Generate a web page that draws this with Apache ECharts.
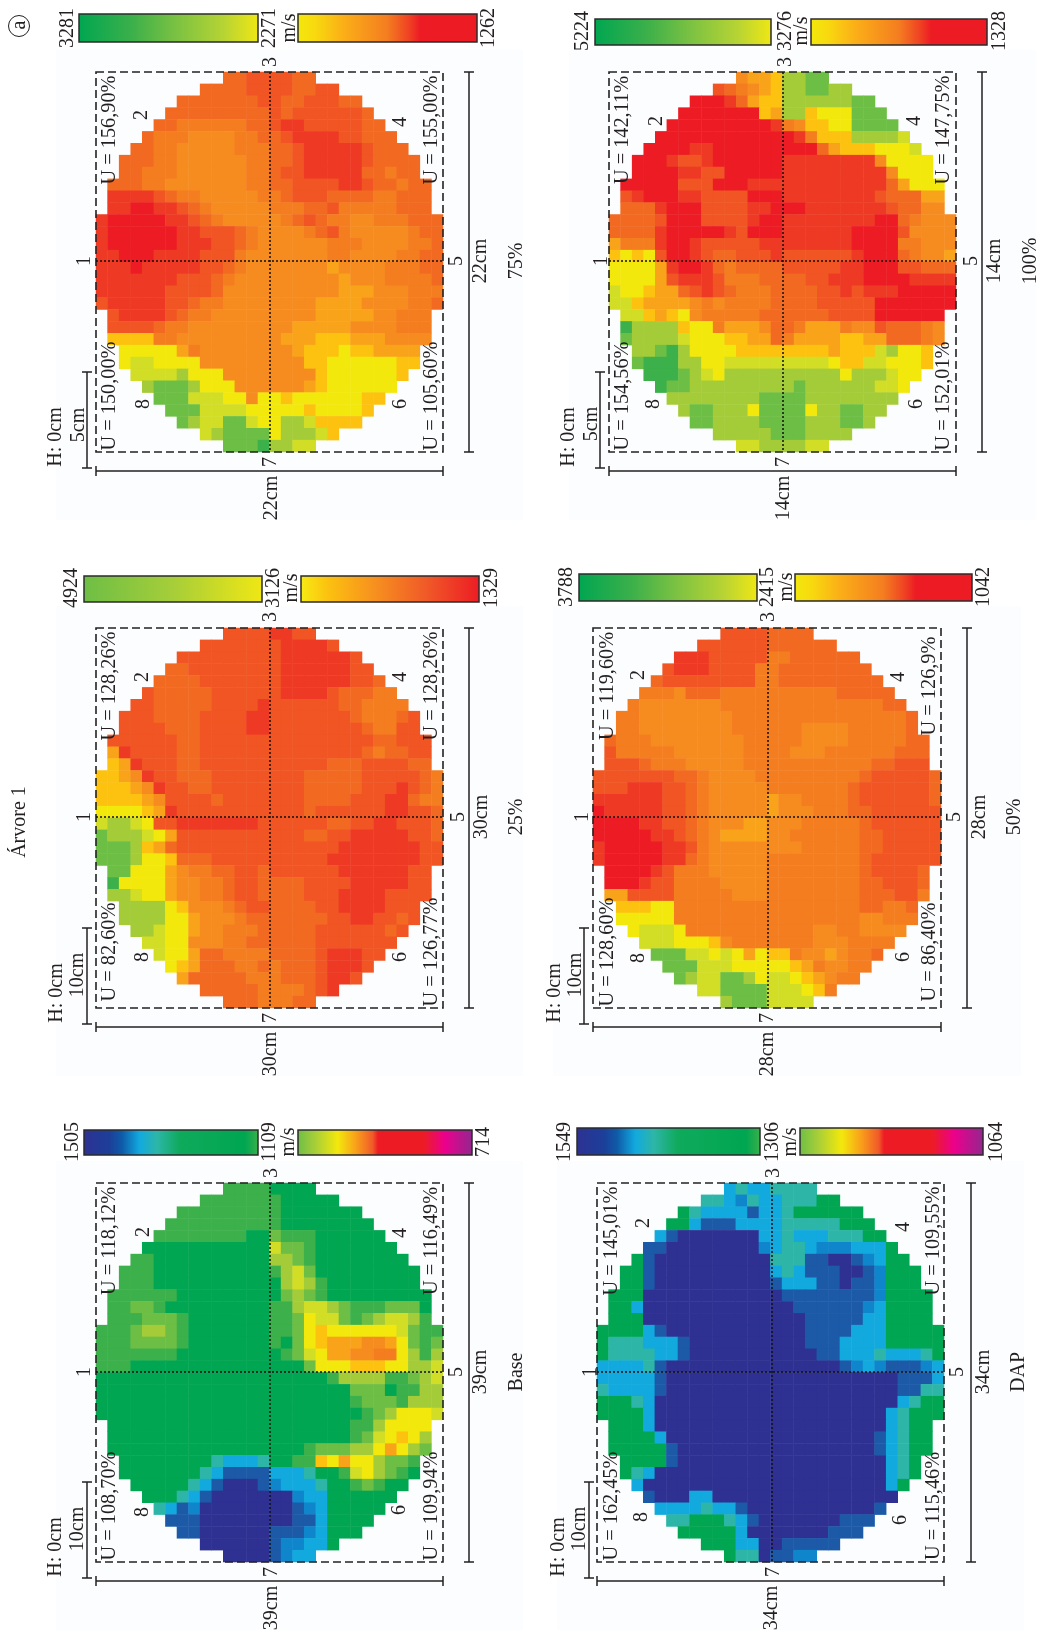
<!DOCTYPE html>
<html>
<head>
<meta charset="utf-8">
<style>
  html, body { margin: 0; padding: 0; background: #fff; }
  #chart { width: 1048px; height: 1642px; }
</style>
<script src="https://cdn.jsdelivr.net/npm/echarts@6/dist/echarts.min.js"></script>
</head>
<body>
<div id="chart"></div>
<script>
// colour level of each cell, one string per row of the disc (rows are centred on the grid)
const levels = '0123456789abcdefghi'
const levelColors = ['#2e3192', '#1c5aa8', '#0f86cc', '#12a9de', '#2db6a8', '#00a651', '#3cb04a', '#6dbe45', '#a4cc39', '#d2dd26', '#f3e80c', '#fcc20f', '#f9a31a', '#f68c1f', '#f47d20', '#f26a21', '#f05523', '#ee3a24', '#ed1c24']

const rows75 = [
  'ffggggff',
  'ffffggggffgg',
  'fffffffggffgggff',
  'fffffffffgfggggggf',
  'ffeeeeeeffghhgggggff',
  'feeeddddeeffghhhhggfff',
  'ffeedddddeeeffghhhhhgfff',
  'fffeeddddddeeffghhhhhgffff',
  'ffeeeddddddeefgghhhhhffeff',
  'fffeedddddddeeffgggghhgffeff',
  'hhhhgfeedddddeefgggffffeefff',
  'hhiihhgfedddddeeeffgeeeeefff',
  'hiiiiihhgfedddddefgfeeddeeefff',
  'hiiiiiihhgggfeddddefgedddddeff',
  'hiiiiiihhhggfeddddddeeeddddeef',
  'hhiiihhhhgggedddddddeeddddeeff',
  'hhhihhhhhggfedddddddcddddeeeff',
  'hhhhhhhgggfedddddddddcdddeeeef',
  'hhhhhhggggfddddddddddcccdddeee',
  'ghhhhhggfeeddddddddccccddddeef',
  'ghhhhgfeedddddddddcccccddeee',
  'ggggfeedddddddddcccccddddeee',
  'bbbbeedddddddddcccbbbcccdddd',
  'aaaaaceddddddddcbbbabbcccc',
  'a99aaaadddddddddbbaaaaaabb',
  '99998aaaddddddddbaaaaaab',
  '87778aaaddddddcbaaaaaa',
  '777999aadaabaaaaaabb',
  '7779999aaaaabaaaab',
  '7899779aa889bbbb',
  '987777a8889b',
  '77768899'
]
const rows100 = [
  'dccb8877',
  'gfedcb887788',
  'iiihfcbb88888877',
  'iiiiiiibc88baaa777',
  'iiiiiiiiihedbbaa7777',
  'iiiiiiiiiiiihebbb88889',
  'iiiihhiiiiiiiiifcbbbaaa9',
  'iiihgghiiiiiihhhhhhhhdaaaa',
  'iiiihhggiiiiihhhhhhhhhdaaa',
  'iiiiigggiiihhhhhhhhhhhhfcaaa',
  'ghiiihhggggiiihhhhhhhhgfffcc',
  'fffhiiigggghhiiihhhhhhhgffdd',
  'ffffgiiiggggh' + 'iihhhhhhhhiifeddd',
  'ffffhiiiiihgiiihhhhhhiiiigdddd',
  'ceeehiihggggghhhhhhhhiiiieeddd',
  'babagiihgffggghgggggghiiifeddc',
  'aaaachiihfeffffggggghhiiiggfff',
  'aaaacghhhgeeeffffgghhhiiiihhhh',
  '9aabccfghgfeeeffffgghghhhiiiii',
  '99bccccdedeeeeffffgggggiiiiiii',
  '99bcbadeeeeeffffffggggiiiiii',
  '68888baaecccdffeccceddgfffed',
  '788889aaabbccfeccccbbccfffed',
  '88768aaaabbbbbbbbcbbb98aab',
  '766688aa999999999abb99aaab',
  '666789a8888888888a8889aa',
  '677888888888788888899a',
  '88888888777788888888',
  '877888a7777a887788',
  '7788887777888778',
  '888887778888',
  '99888899'
]
const rows25 = [
  'gggghhgg',
  'ggggggghhhhg',
  'ggggggggghhhhhhg',
  'ffgggggggghhhhhhgg',
  'ffffggggggghhhhhhggf',
  'gfffffgggggghhhhgfffee',
  'ggfffffgggghggggggffeeee',
  'gggffffgggghhgggggggfeeefg',
  'ggggfffgggghhggggggggfeegg',
  'ggggggffgggggggggggggggffggg',
  'chggggffggggggggggggggfeffgg',
  'bchgggffgggggggggggfffggggff',
  'bbcdhggfffggggggggfffffgggggfe',
  'bbbcdhggffggggggggfffffggghgfe',
  'bbbbcdggggfgggggggffffggghhfee',
  'aaaabchgggggggggggfgggggghhggf',
  '9889agghhhhhhhggggggffgghhgggf',
  '78889acgggggggggggffgghhhhhggf',
  '7778bcfgggggggggggggghhhhhhhgg',
  '7778aabfffgggggggggghhhhhhhhgg',
  '77aaacdeeffggfgggggghhhhhhgg',
  '6aaaacddeefggffffgggghhhhhgg',
  '889aacddeefggffffggghhhhgggg',
  '8888abdddefggffffgghhhhggg',
  '8888aacdddefffffffgghhggfg',
  '889aacddeeefffffggggggfg',
  '99aadddeeffffffggggggg',
  '9aacffeeeeffffghhhgg',
  'abcfffeefefffghhhg',
  'cfffffeeefffghhg',
  'fffffeeeefgh',
  'fffeeeff'
]
const rows50 = [
  'ggggffff',
  'ggggggffffff',
  'hhhgggggeeffffff',
  'ghhhggggeeffffffff',
  'fggggggggeefffffffff',
  'eeedfffeeeeeeeeeefffff',
  'edddddddeeeeeeeeeeeeeeff',
  'eeddddddddeeeeeeeeeeeeeeef',
  'eeddddddddeeeeeeddddeeeeef',
  'feeeddddddddeeeeeddddeeeeeff',
  'geeeeeddddddeeeedddeeeeeefff',
  'gggfeeedddddeeeeeeeeeeeffggg',
  'gggggggffeddddeeeeeeeeefgggggf',
  'ggghhhggfedddddeeeeeeefggggggf',
  'hhhhhhggfedddddcddeeeefggggggf',
  'ihhhhhggfedddddcdddeeeffgggggg',
  'iiiihhggfedddccdddeeeeefgggggg',
  'iiiiihhgfedccccddeeeeeeffggggg',
  'hiiiiihhgeddddddddeeeeeffggggg',
  'hiiiiihhfedddddeeeeeeeefgggggg',
  'iiiihgeeedddddeeeeeeeefggggf',
  'iiihggeeeeddddeeeeeeeeffgggf',
  'ccggggeeeeedddeeeeeeeefffgge',
  'bbbaaeeeeeeeeeeeeeeeeffeef',
  'aaaaaeeeeeeeeeeeeeeeeddeee',
  'a999aeeeeeeeeeeeddeedddd',
  '999aaabdeeeeeeedddeeee',
  '77799a9acabbeddcdeef',
  '777999aaaaabceddee',
  '7899778a99abcdee',
  '997777999abe',
  '87779999'
]
const rowsBase = [
  '66665555',
  '666666655555',
  '6666666665555555',
  '666666666655555555',
  '66666666557666555555',
  '5555555555597765555555',
  '665555555555887655555555',
  '66655555555556897555555555',
  '66655555555555898655555555',
  '6666665555555557876555555555',
  '6677655555555566899876667775',
  '66677765555555667a9976789986',
  '666788765555555667abaaaaaa9766',
  '666777765555555657abcccddca767',
  '6666666555555555679accddeea868',
  '6665555555555555557aaabbbaa889',
  '555555555555555555556888866789',
  '555555555555555555555577756688',
  '555555555555555555555567776888',
  '55555555555555555555555678aaa9',
  '555555555555555555555668aaaa',
  '555555555555555555555679aba8',
  '55555555555555555677788aca87',
  '55555555433345566bacaa8776',
  '555555543111133345569a8765',
  '555554310001233345567655',
  '5554310000000233555555',
  '43120000000012355555',
  '111000000001135555',
  '1100000011123555',
  '000000122335',
  '00001233'
]
const rowsDap = [
  '34334444',
  '443243344455',
  '5433331334555555',
  '553111333344444555',
  '31000000033433344455',
  '1100000000234432223335',
  '510000000000444110012355',
  '55100000000003431110012555',
  '55100000000001333110112555',
  '5550000000000001111111125555',
  '5530000000000000111111235555',
  '5550000000000000011111335555',
  '555531000000000000111133355555',
  '544433310000000000111333355555',
  '544443310000000000011333433345',
  '333341000000000000000123211123',
  '333331000000000000000000001113',
  '433331000000000000000000001144',
  '555430000000000000000000003455',
  '555530000000000000000000034555',
  '5553000000000000000000003455',
  '5555300000000000000000013455',
  '5555510000000000000000013455',
  '55551000000000000000000345',
  '54300000000000000000000345',
  '300000000000000000000035',
  '1000330000000000000000',
  '33334331000000000001',
  '445554310000000111',
  '5555530000000111',
  '555330011111',
  '54401122'
]

const colCount = 30
const rowCount = 32
const colNames = Array.from({ length: colCount }, (_, i) => i)
const rowNames = Array.from({ length: rowCount }, (_, i) => i)

const greenYellow = [[0, '#00a651'], [0.3, '#3cb04a'], [0.55, '#7dc242'], [0.8, '#b5d334'], [1, '#f0e714']]
const yellowRed = [[0, '#f3e80c'], [0.1, '#f8d90f'], [0.25, '#fbb017'], [0.5, '#f47d20'], [0.62, '#ef4123'], [0.68, '#ed1c24'], [1, '#ed1c24']]
const limeYellow = [[0, '#6dbe45'], [0.5, '#a6ce39'], [1, '#f0e714']]
const yellowRedSoft = [[0, '#f6ec13'], [0.15, '#fcc20f'], [0.4, '#f7931e'], [0.7, '#f05a28'], [1, '#ed1c24']]
const blueGreen = [[0, '#2e3192'], [0.15, '#1c3f9a'], [0.22, '#0f5aa8'], [0.32, '#12a9de'], [0.42, '#2db6a8'], [0.55, '#0faa5c'], [0.92, '#00a651'], [1, '#3cb04a']]
const limeMagenta = [[0, '#6dbe45'], [0.1, '#a6ce39'], [0.23, '#f3e80c'], [0.33, '#f9a31a'], [0.43, '#f15a29'], [0.46, '#ed1c24'], [0.72, '#ed1c24'], [0.84, '#ec008c'], [1, '#92278f']]

const panels = [
  { rows: rows75, frame: [96, 72, 443, 452], cross: [270, 261], bars: [79, 258, 298, 477, 14, 42], stops: [greenYellow, yellowRed],
    scale: ['3281', '2271', 'm/s', '1262'], scaleX: [66, 268, 288, 487], scaleY: 28,
    points: [[83, 261], [140, 115], [269, 62], [399, 122], [455, 261], [399, 404], [269, 462], [142, 404]],
    u: ['U = 156,90%', 'U = 155,00%', 'U = 150,00%', 'U = 105,60%'], uX: [108, 430],
    hX: 54, sideX: 77, sideY: 425, side: '5cm', sideBarX: 87, rightBarX: 469, rightX: 479, dim: '22cm', bottomX: 270, title: '75%', titleX: 515 },
  { rows: rows100, frame: [609, 72, 956, 452], cross: [783, 261], bars: [595, 771, 811, 987, 19, 45], stops: [greenYellow, yellowRed],
    scale: ['5224', '3276', 'm/s', '1328'], scaleX: [581, 784, 800, 998], scaleY: 31,
    points: [[600, 261], [655, 121], [784, 62], [913, 121], [970, 261], [915, 404], [782, 462], [652, 404]],
    u: ['U = 142,11%', 'U = 147,75%', 'U = 154,56%', 'U = 152,01%'], uX: [621, 942],
    hX: 567, sideX: 590, sideY: 424, side: '5cm', sideBarX: 600, rightBarX: 982, rightX: 993, dim: '14cm', bottomX: 782, title: '100%', titleX: 1029 },
  { rows: rows25, frame: [96, 628, 443, 1008], cross: [270, 817], bars: [84, 262, 301, 479, 576, 602], stops: [limeYellow, yellowRedSoft],
    scale: ['4924', '3126', 'm/s', '1329'], scaleX: [70, 272, 290, 490], scaleY: 588,
    points: [[83, 817], [141, 677], [269, 617], [399, 677], [457, 817], [399, 957], [269, 1018], [141, 957]],
    u: ['U = 128,26%', 'U = 128,26%', 'U = 82,60%', 'U = 126,77%'], uX: [108, 430],
    hX: 55, sideX: 76, sideY: 975, side: '10cm', sideBarX: 87, rightBarX: 469, rightX: 480, dim: '30cm', bottomX: 269, title: '25%', titleX: 515 },
  { rows: rows50, frame: [593, 628, 941, 1008], cross: [768, 817], bars: [579, 757, 795, 972, 574, 601], stops: [greenYellow, yellowRed],
    scale: ['3788', '2415', 'm/s', '1042'], scaleX: [565, 766, 785, 982], scaleY: 587,
    points: [[581, 817], [637, 675], [767, 617], [897, 677], [953, 817], [902, 957], [766, 1018], [637, 958]],
    u: ['U = 119,60%', 'U = 126,9%', 'U = 128,60%', 'U = 86,40%'], uX: [606, 928],
    hX: 553, sideX: 574, sideY: 975, side: '10cm', sideBarX: 584, rightBarX: 967, rightX: 978, dim: '28cm', bottomX: 766, title: '50%', titleX: 1013 },
  { rows: rowsBase, frame: [96, 1183, 443, 1562], cross: [270, 1372], bars: [84, 258, 298, 472, 1130, 1155], stops: [blueGreen, limeMagenta],
    scale: ['1505', '1109', 'm/s', '714'], scaleX: [71, 268, 287, 482], scaleY: 1142,
    points: [[83, 1372], [142, 1232], [270, 1173], [399, 1233], [455, 1372], [398, 1510], [270, 1572], [141, 1512]],
    u: ['U = 118,12%', 'U = 116,49%', 'U = 108,70%', 'U = 109,94%'], uX: [108, 430],
    hX: 54, sideX: 76, sideY: 1529, side: '10cm', sideBarX: 87, rightBarX: 469, rightX: 479, dim: '39cm', bottomX: 270, title: 'Base', titleX: 515 },
  { rows: rowsDap, frame: [597, 1183, 944, 1562], cross: [772, 1372], bars: [577, 760, 800, 983, 1128, 1155], stops: [blueGreen, limeMagenta],
    scale: ['1549', '1306', 'm/s', '1064'], scaleX: [563, 771, 789, 995], scaleY: 1142,
    points: [[589, 1372], [642, 1223], [772, 1173], [902, 1227], [956, 1372], [899, 1520], [772, 1572], [640, 1517]],
    u: ['U = 145,01%', 'U = 109,55%', 'U = 162,45%', 'U = 115,46%'], uX: [610, 932],
    hX: 557, sideX: 578, sideY: 1529, side: '10cm', sideBarX: 589, rightBarX: 971, rightX: 982, dim: '34cm', bottomX: 770, title: 'DAP', titleX: 1017 }
]

const ink = '#231f20'
const serif = '"Liberation Serif", "DejaVu Serif", serif'

function vText(text, x, y, size) {
  return {
    type: 'text', x: x + 1.5, y, rotation: Math.PI / 2, z: 110,
    style: { text, fill: ink, font: (size || 20) + 'px ' + serif, align: 'center', verticalAlign: 'middle' }
  }
}

function seg(x1, y1, x2, y2, extra) {
  return {
    type: 'line', z: 105, shape: { x1, y1, x2, y2 },
    style: Object.assign({ stroke: ink, lineWidth: 1.5 }, extra)
  }
}

function toCells(rows) {
  const cells = []
  rows.forEach((row, r) => {
    const start = Math.floor((colCount - row.length) / 2)
    row.split('').forEach((ch, i) => {
      cells.push([start + i, r, levels.indexOf(ch)])
    })
  })
  return cells
}

function barStops(stops) {
  return { type: 'linear', x: 0, y: 0, x2: 1, y2: 0, colorStops: stops.map(s => ({ offset: s[0], color: s[1] })) }
}

function panelGraphics(p) {
  const [x0, y0, x1, y1] = p.frame
  const [cx, cy] = p.cross
  const [b1a, b1b, b2a, b2b, bt, bb] = p.bars
  const els = []
  // faint tint behind each panel
  els.push({ type: 'rect', z: -1, shape: { x: x0 - 40, y: y0 - 22, width: x1 - x0 + 120, height: y1 - y0 + 90 }, style: { fill: '#fcfdfe' } })
  // colour scales
  els.push({ type: 'rect', z: 105, shape: { x: b1a, y: bt, width: b1b - b1a, height: bb - bt }, style: { fill: barStops(p.stops[0]), stroke: '#2b2b2b', lineWidth: 1.5 } })
  els.push({ type: 'rect', z: 105, shape: { x: b2a, y: bt, width: b2b - b2a, height: bb - bt }, style: { fill: barStops(p.stops[1]), stroke: '#2b2b2b', lineWidth: 1.5 } })
  p.scale.forEach((t, i) => els.push(vText(t, p.scaleX[i], p.scaleY)))
  // dashed frame and centre lines
  els.push({ type: 'rect', z: 105, shape: { x: x0, y: y0, width: x1 - x0, height: y1 - y0 }, style: { fill: null, stroke: '#222', lineWidth: 1.6, lineDash: [8, 4] } })
  els.push(seg(x0, cy, x1, cy, { stroke: '#111', lineDash: [2, 2] }))
  els.push(seg(cx, y0, cx, y1, { stroke: '#111', lineDash: [2, 2] }))
  // sensor numbers
  p.points.forEach((pt, i) => els.push(vText(String(i + 1), pt[0], pt[1])))
  // moisture labels
  const uTop = y0 + 58
  const uBottom = y1 - 56
  els.push(vText(p.u[0], p.uX[0], uTop, 20.3))
  els.push(vText(p.u[1], p.uX[1], uTop, 20.3))
  els.push(vText(p.u[2], p.uX[0], uBottom, 20.3))
  els.push(vText(p.u[3], p.uX[1], uBottom, 20.3))
  // scale bar and dimensions
  els.push(vText('H: 0cm', p.hX, y1 - 15))
  els.push(vText(p.side, p.sideX, p.sideY))
  els.push(seg(p.sideBarX, y1 - 80, p.sideBarX, y1 + 16))
  els.push(seg(p.sideBarX - 5, y1 - 80, p.sideBarX + 5, y1 - 80))
  els.push(seg(p.sideBarX - 5, y1 + 16, p.sideBarX + 5, y1 + 16))
  els.push(seg(x0, y1 + 19, x1, y1 + 19))
  els.push(seg(x0, y1 + 14, x0, y1 + 24))
  els.push(seg(x1, y1 + 14, x1, y1 + 24))
  els.push(vText(p.dim, p.bottomX, y1 + 46))
  els.push(seg(p.rightBarX, y0, p.rightBarX, y1))
  els.push(seg(p.rightBarX - 5, y0, p.rightBarX + 5, y0))
  els.push(seg(p.rightBarX - 5, y1, p.rightBarX + 5, y1))
  els.push(vText(p.dim, p.rightX, cy))
  els.push(vText(p.title, p.titleX, cy))
  return els
}

const chart = echarts.init(document.getElementById('chart'), null, { renderer: 'canvas' })

const graphics = panels.flatMap(panelGraphics)
graphics.push(vText('Árvore 1', 18, 822))
graphics.push({ type: 'circle', z: 105, shape: { cx: 19, cy: 26, r: 10.5 }, style: { fill: null, stroke: ink, lineWidth: 1 } })
graphics.push(vText('a', 18, 25))

chart.setOption({
  animation: false,
  backgroundColor: '#fff',
  visualMap: {
    show: false,
    type: 'continuous',
    dimension: 2,
    min: 0,
    max: levelColors.length - 1,
    inRange: { color: levelColors }
  },
  grid: panels.map(p => ({
    left: p.frame[0],
    top: p.frame[1],
    width: p.frame[2] - p.frame[0],
    height: p.frame[3] - p.frame[1]
  })),
  xAxis: panels.map((p, i) => ({
    type: 'category', gridIndex: i, data: colNames, show: false
  })),
  yAxis: panels.map((p, i) => ({
    type: 'category', gridIndex: i, data: rowNames, inverse: true, show: false
  })),
  series: panels.map((p, i) => ({
    type: 'heatmap',
    xAxisIndex: i,
    yAxisIndex: i,
    data: toCells(p.rows),
    progressive: 0,
    itemStyle: { borderWidth: 0 },
    emphasis: { disabled: true }
  })),
  graphic: { elements: graphics }
})
</script>
</body>
</html>
